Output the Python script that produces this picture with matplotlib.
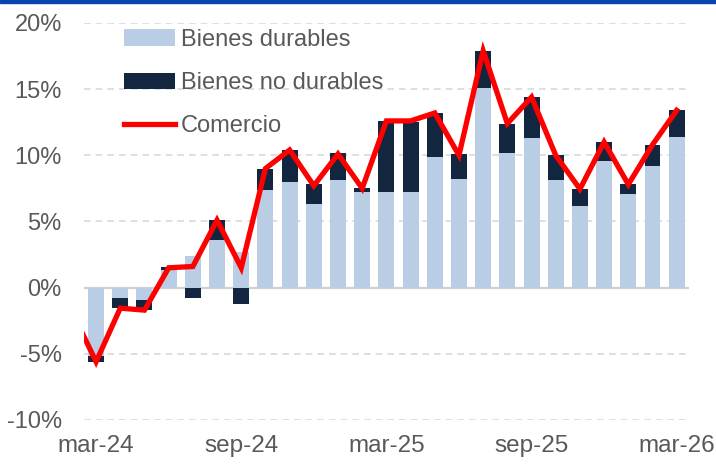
import numpy as np
import matplotlib.pyplot as plt
from matplotlib.patches import Rectangle

plt.rcParams["font.family"] = ["Liberation Sans", "DejaVu Sans"]

# ── Data (% y/y) ─────────────────────────────────────────────────────────────
# first month (feb-24) sits outside the visible window, only its line end shows
months = ["feb-24", "mar-24", "abr-24", "may-24", "jun-24", "jul-24", "ago-24",
          "sep-24", "oct-24", "nov-24", "dic-24", "ene-25", "feb-25",
          "mar-25", "abr-25", "may-25", "jun-25", "jul-25", "ago-25",
          "sep-25", "oct-25", "nov-25", "dic-25", "ene-26", "feb-26", "mar-26"]
durables = [np.nan, -5.2, -0.75, -0.9, 1.35, 2.4, 3.6, 2.7, 7.4, 8.0, 6.3,
            8.1, 7.2, 7.2, 7.2, 9.9, 8.2, 15.1, 10.2, 11.3, 8.1, 6.2, 9.6,
            7.1, 9.2, 11.4]
no_durables = [np.nan, -0.4, -0.8, -0.8, 0.2, -0.8, 1.5, -1.2, 1.6, 2.4, 1.5,
               2.1, 0.3, 5.4, 5.3, 3.3, 1.9, 2.8, 2.2, 3.1, 1.9, 1.25, 1.4,
               0.7, 1.6, 2.0]
comercio = [-1.8, -5.6, -1.55, -1.7, 1.5, 1.6, 5.1, 1.5, 9.0, 10.4, 7.7,
            10.1, 7.5, 12.6, 12.6, 13.2, 10.0, 17.9, 12.4, 14.4, 10.0, 7.45,
            11.0, 7.8, 10.8, 13.4]
tick_labels = ["mar-24", "sep-24", "mar-25", "sep-25", "mar-26"]

# ── Colors ───────────────────────────────────────────────────────────────────
LIGHT = "#b9cde5"
DARK = "#13263f"
RED = "#ff0000"
TEXT = "#595959"
GRID = "#d9d9d9"

fig = plt.figure(figsize=(7.16, 4.69), dpi=100, facecolor="white")
ax = fig.add_axes([0.1173, 0.1045, 0.8447, 0.8465])

x = np.arange(len(months))
dur = np.array(durables)
nod = np.array(no_durables)
# Excel-style stacking: positives pile up, negatives pile down
bottom = np.where(np.sign(nod) == np.sign(dur), dur, 0.0)

ax.axhline(0, color="#d0d0d0", lw=1.6, zorder=1)
b1 = ax.bar(x, dur, width=0.66, color=LIGHT, zorder=2, label="Bienes durables")
b2 = ax.bar(x, nod, bottom=bottom, width=0.66, color=DARK, zorder=2,
            label="Bienes no durables")
l1, = ax.plot(x, comercio, color=RED, lw=3.8, solid_joinstyle="miter",
              zorder=3, label="Comercio")

ax.set_xlim(0.5, len(months) - 0.5)
ax.set_ylim(-10, 20)
ax.set_yticks([-10, -5, 0, 5, 10, 15, 20])
ax.set_yticklabels([f"{v}%" for v in [-10, -5, 0, 5, 10, 15, 20]])
ax.set_xticks([months.index(m) for m in tick_labels])
ax.set_xticklabels(tick_labels)

for yv in [-10, -5, 5, 10, 15, 20]:
    ax.axhline(yv, color=GRID, lw=1.2, ls=(0, (4, 3)), zorder=0)

for s in ax.spines.values():
    s.set_visible(False)
ax.tick_params(axis="y", length=0, pad=16, labelsize=17, labelcolor=TEXT)
ax.tick_params(axis="x", length=0, pad=11, labelsize=17.5, labelcolor=TEXT)

ax.legend([b1, b2, l1], [h.get_label() for h in (b1, b2, l1)],
          loc="upper left", bbox_to_anchor=(124 / 716, 1 - 29 / 469),
          bbox_transform=fig.transFigure, frameon=False, fontsize=17,
          labelcolor=TEXT, handlelength=2.15, handletextpad=0.25,
          labelspacing=0.9, borderpad=0, borderaxespad=0)

# thin blue band along the top edge
fig.patches.append(Rectangle((0, 1 - 3.5 / 469), 1, 3.5 / 469,
                             transform=fig.transFigure, color="#0a44ad",
                             zorder=5))

fig.savefig("out.png", dpi=100, facecolor="white")
